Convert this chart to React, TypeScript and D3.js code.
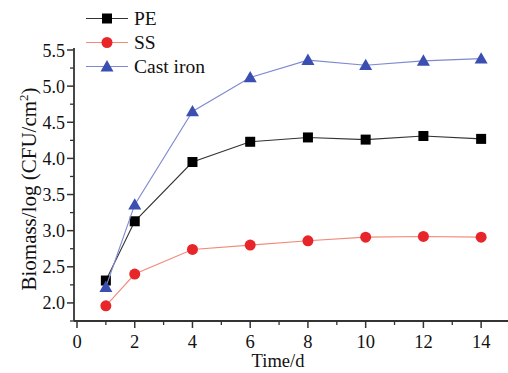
import React from "react";
import * as d3 from "d3";

const days = [1, 2, 4, 6, 8, 10, 12, 14];
const pe = [2.31, 3.13, 3.95, 4.23, 4.29, 4.26, 4.31, 4.27];
const ss = [1.96, 2.4, 2.74, 2.8, 2.86, 2.91, 2.92, 2.91];
const castIron = [2.22, 3.36, 4.65, 5.12, 5.36, 5.29, 5.35, 5.38];
const xTicks = [0, 2, 4, 6, 8, 10, 12, 14];
const yTicks = [2.0, 2.5, 3.0, 3.5, 4.0, 4.5, 5.0, 5.5];
const seriesNames = ["PE", "SS", "Cast iron"];

const W = 508, H = 373;
const x = d3.scaleLinear().domain([0, 15]).range([77, 510]);
const y = d3.scaleLinear().domain([1.75, 5.5]).range([321, 50]);
const AX = 74;
const FONT = "'Liberation Serif', 'DejaVu Serif', serif";

const series = [
  { name: seriesNames[0], values: pe, line: "#333333", fill: "#000000", shape: "square" },
  { name: seriesNames[1], values: ss, line: "#f28a7a", fill: "#e8262a", shape: "circle" },
  { name: seriesNames[2], values: castIron, line: "#7f89cf", fill: "#3b4fb0", shape: "triangle" },
];

function Marker({ shape, cx, cy, fill }: { shape: string; cx: number; cy: number; fill: string }) {
  if (shape === "square") return <rect x={cx - 5} y={cy - 5} width={10} height={10} fill={fill} />;
  if (shape === "circle") return <circle cx={cx} cy={cy} r={5.5} fill={fill} />;
  const s = 6.5;
  return <path d={`M${cx},${cy - s}L${cx + s},${cy + s * 0.75}L${cx - s},${cy + s * 0.75}Z`} fill={fill} />;
}

export default function App() {
  const line = d3.line<number>().x((_, i) => x(days[i])).y((v) => y(v));
  const minorX = d3.range(1, 15, 2);
  const minorY = d3.range(1.75, 5.5, 0.5);
  const y0 = y(1.75);
  return (
    <svg width={W} height={H} style={{ position: "absolute", left: 0, top: 0, background: "#fff" }}>
      {/* axes */}
      <line x1={AX} x2={x(15)} y1={y0} y2={y0} stroke="#333" strokeWidth={1.8} />
      <line x1={AX} x2={AX} y1={y(5.5) - 2} y2={y0} stroke="#333" strokeWidth={1.8} />
      {xTicks.map((t) => (
        <g key={"xt" + t}>
          <line x1={x(t)} x2={x(t)} y1={y0} y2={y0 + 7} stroke="#333" strokeWidth={1.5} />
          <text x={x(t)} y={348} textAnchor="middle" fontFamily={FONT} fontSize={18.5} fill="#111">{t}</text>
        </g>
      ))}
      {minorX.map((t) => (
        <line key={"xm" + t} x1={x(t)} x2={x(t)} y1={y0} y2={y0 + 4} stroke="#333" strokeWidth={1.3} />
      ))}
      {yTicks.map((t) => (
        <g key={"yt" + t}>
          <line x1={AX - 7} x2={AX} y1={y(t)} y2={y(t)} stroke="#333" strokeWidth={1.5} />
          <text x={65} y={y(t) + 6.5} textAnchor="end" fontFamily={FONT} fontSize={18} fill="#111">{t.toFixed(1)}</text>
        </g>
      ))}
      {minorY.map((t) => (
        <line key={"ym" + t} x1={AX - 4} x2={AX} y1={y(t)} y2={y(t)} stroke="#333" strokeWidth={1.3} />
      ))}
      <text x={278} y={367} textAnchor="middle" fontFamily={FONT} fontSize={18.5} fill="#111">Time/d</text>
      <text transform="translate(36,189) rotate(-90)" textAnchor="middle" fontFamily={FONT} fontSize={21} fill="#111">
        Biomass/log (CFU/cm<tspan dy={-8} fontSize={13}>2</tspan><tspan dy={8}>)</tspan>
      </text>
      {/* series */}
      {series.map((s) => (
        <g key={s.name}>
          <path d={line(s.values) || ""} fill="none" stroke={s.line} strokeWidth={1.1} />
          {s.values.map((v, i) => (
            <Marker key={i} shape={s.shape} cx={x(days[i])} cy={y(v)} fill={s.fill} />
          ))}
        </g>
      ))}
      {/* legend */}
      {series.map((s, i) => {
        const base = 25 + i * 24;
        const ly = base - 6.5;
        return (
          <g key={"lg" + s.name}>
            <line x1={86} x2={128} y1={ly} y2={ly} stroke={s.line} strokeWidth={1.1} />
            <Marker shape={s.shape} cx={107} cy={ly} fill={s.fill} />
            <text x={134} y={base} fontFamily={FONT} fontSize={19.5} fill="#111">{s.name}</text>
          </g>
        );
      })}
    </svg>
  );
}
